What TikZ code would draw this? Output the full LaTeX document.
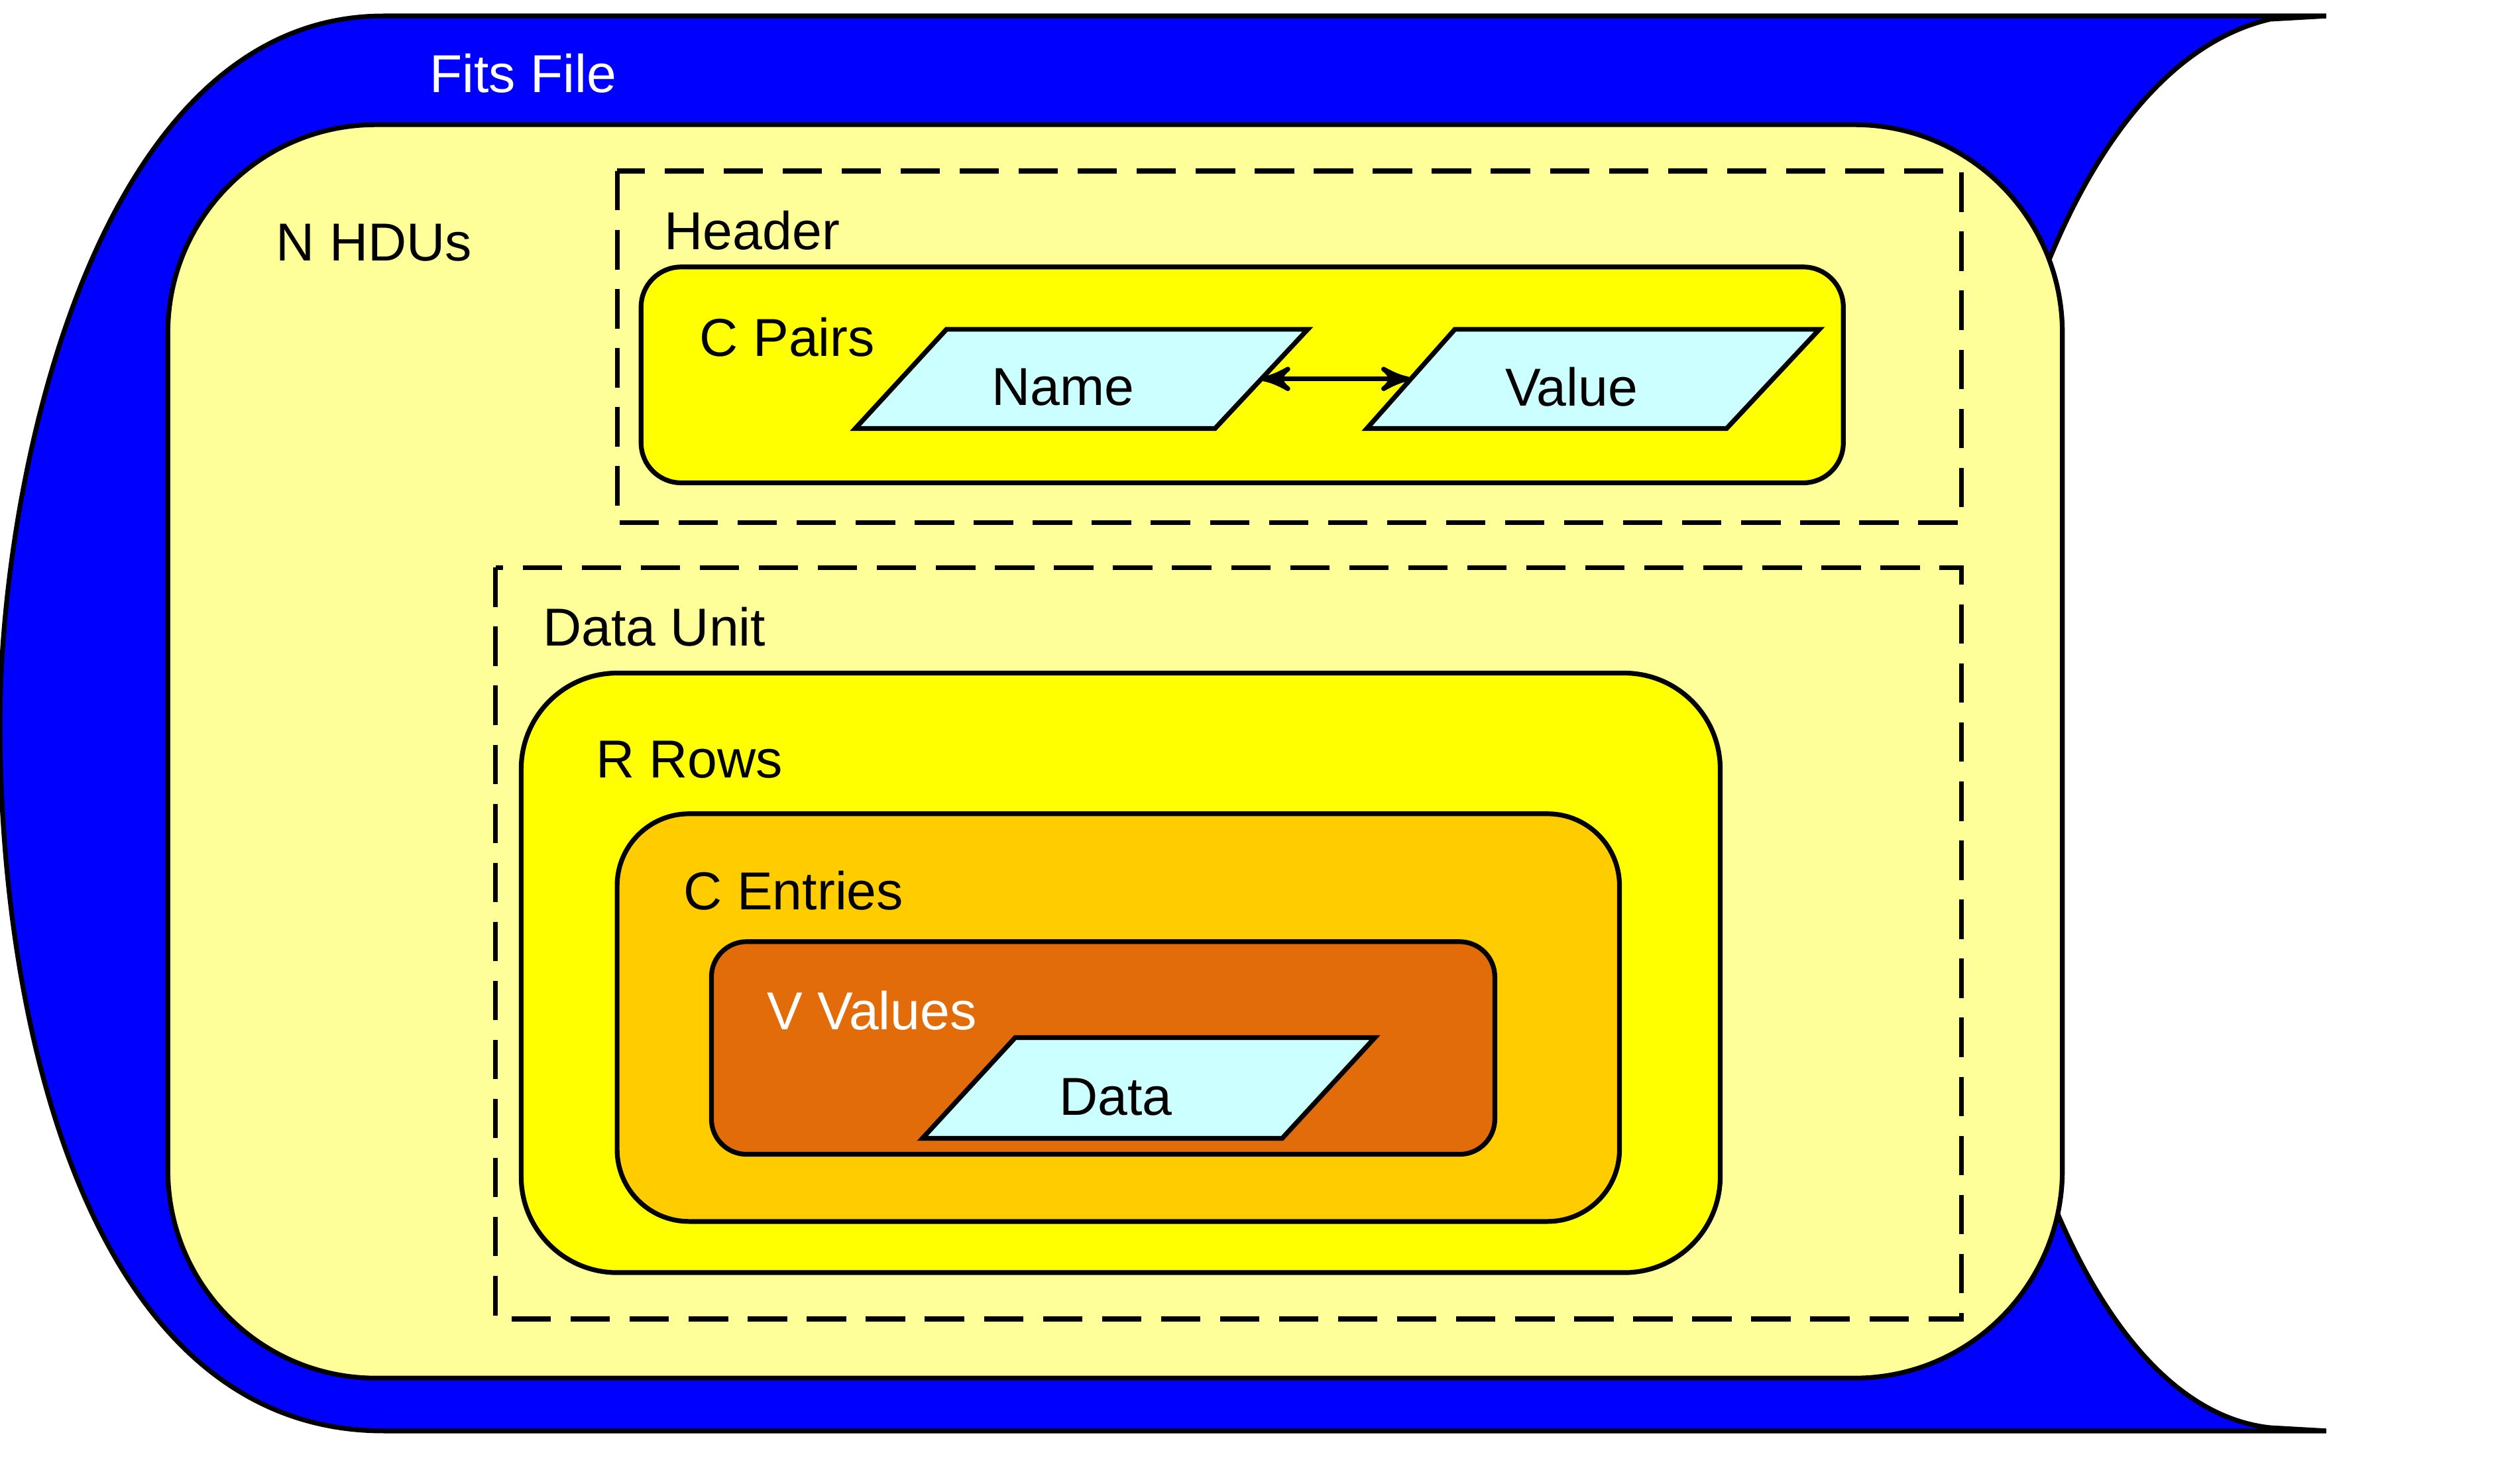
\documentclass[tikz,border=0pt]{standalone}
\usepackage{fontspec}
\setmainfont{Liberation Sans}
\usetikzlibrary{arrows}
\usetikzlibrary{positioning}

\definecolor{fitsblue}{RGB}{0,0,255}
\definecolor{paleyellow}{RGB}{255,255,153}
\definecolor{boxyellow}{RGB}{255,255,0}
\definecolor{entryorange}{RGB}{255,204,0}
\definecolor{valueorange}{RGB}{227,108,10}
\definecolor{datacyan}{RGB}{204,255,255}

\tikzset{
  edge/.style={draw=black, line width=0.85pt},
  unit/.style={draw=black, line width=0.85pt, dash pattern=on 7pt off 3.5pt},
  label/.style={anchor=west, font=\fontsize{9.5}{11}\selectfont, inner sep=0pt},
  item/.style={font=\fontsize{9.5}{11}\selectfont, inner sep=0pt}
}

\begin{document}
\begin{tikzpicture}[x=0.01cm, y=-0.01cm]
\useasboundingbox (0,0) rectangle (1560,928);

% fits file
\draw[edge, fill=fitsblue] (240,10) -- (1455,10) -- (1420,12)
  .. controls (1300,40) and (1230,250) .. (1230,452)
  .. controls (1230,650) and (1300,880) .. (1420,893) -- (1455,895) -- (240,895)
  .. controls (60,895) and (0,650) .. (0,452)
  .. controls (0,300) and (60,10) .. (240,10);
\node[label, text=white] (fits) at (268,46) {Fits File};

% HDUs
\draw[edge, fill=paleyellow, rounded corners=1.3cm] (105,78) rectangle (1290,862);
\node[label] (hdus) at (172,152) {N HDUs};

% header
\draw[unit] (386,107) rectangle (1227,327);
\node[label] (header) at (415,144) {Header};
\draw[edge, fill=boxyellow, rounded corners=0.25cm] (401,167) rectangle (1153,302);
\node[label] (pairs) at (437,211) {C Pairs};
\draw[edge, fill=datacyan] (535,268) -- (592,206) -- (818,206) -- (760,268) -- cycle;
\draw[edge, fill=datacyan] (855,268) -- (910,206) -- (1138,206) -- (1080,268) -- cycle;
\node[item] (name) at (665,242) {Name};
\node[item] (value) at (983,242) {Value};
\coordinate (nameR) at (789,237);
\coordinate (valueL) at (882,237);
\draw[edge, <->, >=stealth'] (nameR) -- (valueL);

% data unit
\draw[unit] (310,355) rectangle (1227,825);
\node[label] (dataunit) at (339,392) {Data Unit};
\draw[edge, fill=boxyellow, rounded corners=0.6cm] (326,421) rectangle (1076,796);
\node[label] (rows) at (372,475) {R Rows};
\draw[edge, fill=entryorange, rounded corners=0.45cm] (386,509) rectangle (1013,764);
\node[label] (entries) at (427,557) {C Entries};
\draw[edge, fill=valueorange, rounded corners=0.22cm] (445,589) rectangle (935,722);
\node[label, text=white] (values) at (479,632) {V Values};
\draw[edge, fill=datacyan] (577,712) -- (635,649) -- (860,649) -- (802,712) -- cycle;
\node[item] (data) at (698,686) {Data};
\end{tikzpicture}
\end{document}
